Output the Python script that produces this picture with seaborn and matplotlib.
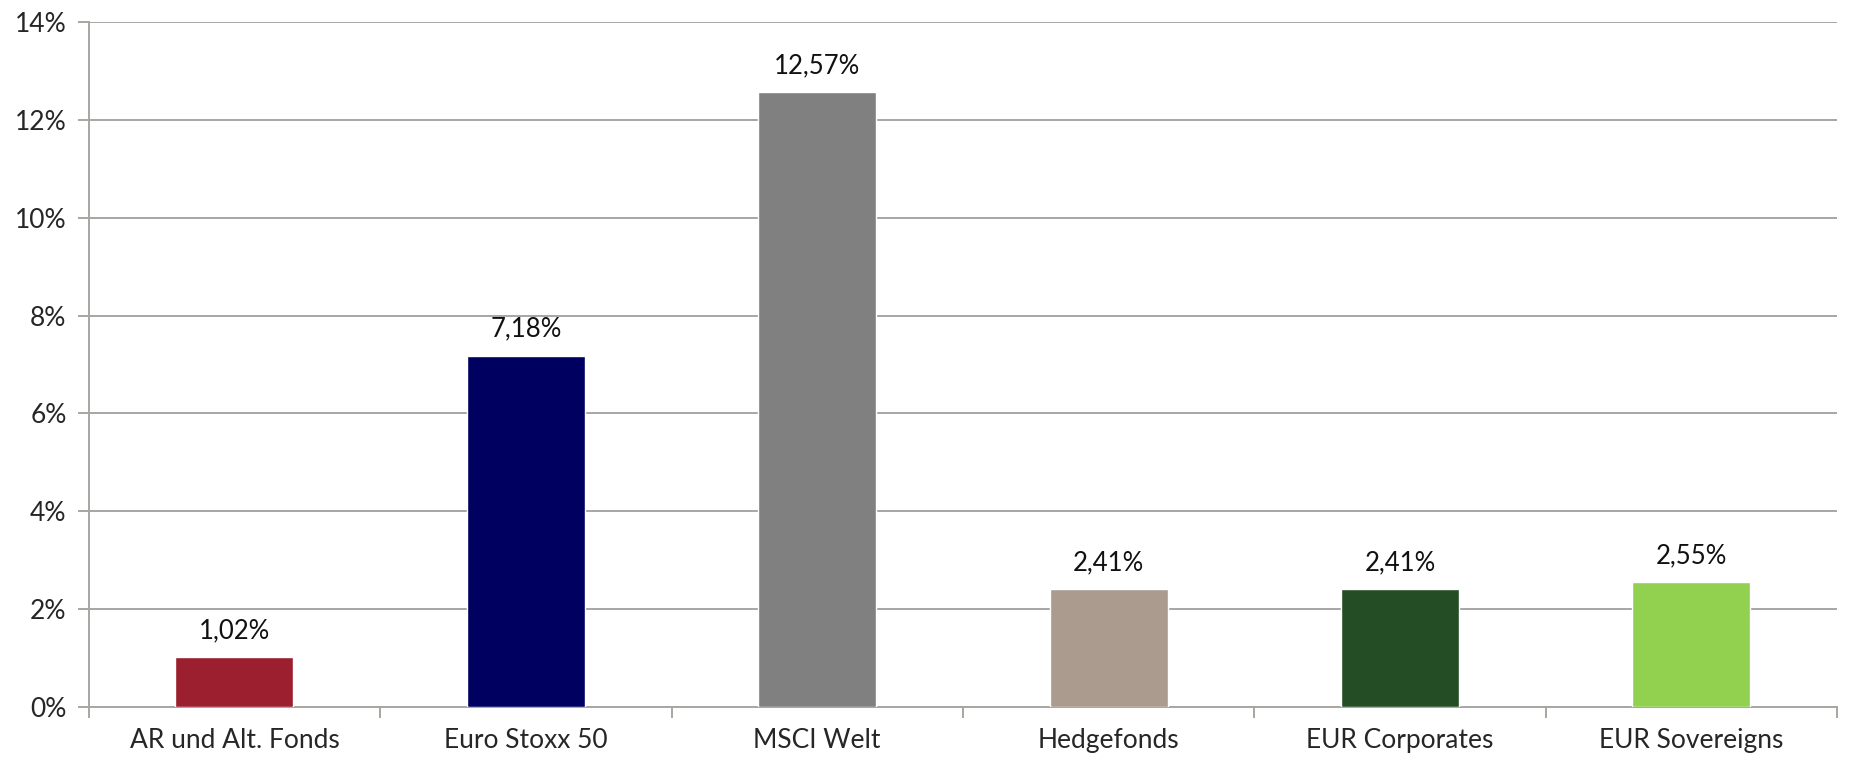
import seaborn as sns
import matplotlib.pyplot as plt
import matplotlib.ticker as mticker

categories = ["AR und Alt. Fonds", "Euro Stoxx 50", "MSCI Welt",
              "Hedgefonds", "EUR Corporates", "EUR Sovereigns"]
values = [1.02, 7.18, 12.57, 2.41, 2.41, 2.55]
colors = ["#9B1F2E", "#000060", "#808080", "#AA9B8E", "#254D25", "#92D050"]

sns.set_style("white")
plt.rcParams["font.family"] = ["Lato", "DejaVu Sans"]

fig, ax = plt.subplots(figsize=(18.5, 7.57), dpi=100)
fig.subplots_adjust(left=0.048, right=0.993, top=0.971, bottom=0.066)

sns.barplot(x=categories, y=values, hue=categories, palette=colors,
            saturation=1, width=0.405, legend=False, ax=ax, zorder=3)

# value labels in German number format
for i, v in enumerate(values):
    ax.annotate(f"{v:.2f}%".replace(".", ","), (i, v), xytext=(0, 10),
                textcoords="offset points", ha="center", va="bottom",
                fontsize=18.5, color="#111111")

ax.set_ylim(0, 14)
ax.set_xlim(-0.5, len(categories) - 0.5)
ax.set_yticks(range(0, 15, 2))
ax.yaxis.set_major_formatter(mticker.FuncFormatter(lambda y, _: f"{y:.0f}%"))
ax.yaxis.grid(True, color="#A8A6A3", linewidth=1.4, zorder=0)
ax.set_axisbelow(True)

# ticks between categories
ax.set_xticks([i + 0.5 for i in range(-1, len(categories))], minor=False)
ax.set_xticklabels([])
ax.set_xticks(range(len(categories)), minor=True)
ax.set_xticklabels(categories, minor=True)
ax.tick_params(axis="x", which="major", length=8, width=1.4, color="#A8A6A3", direction="out", bottom=True)
ax.tick_params(axis="x", which="minor", length=0, labelsize=19, pad=15)
ax.tick_params(axis="y", length=8, width=1.4, color="#A8A6A3", direction="out", left=True,
               labelsize=19, pad=8)

for s in ["top", "right"]:
    ax.spines[s].set_visible(False)
for s in ["left", "bottom"]:
    ax.spines[s].set_color("#A8A6A3")
    ax.spines[s].set_linewidth(1.4)

ax.set_xlabel("")
ax.set_ylabel("")
fig.savefig("out.png", dpi=100)
